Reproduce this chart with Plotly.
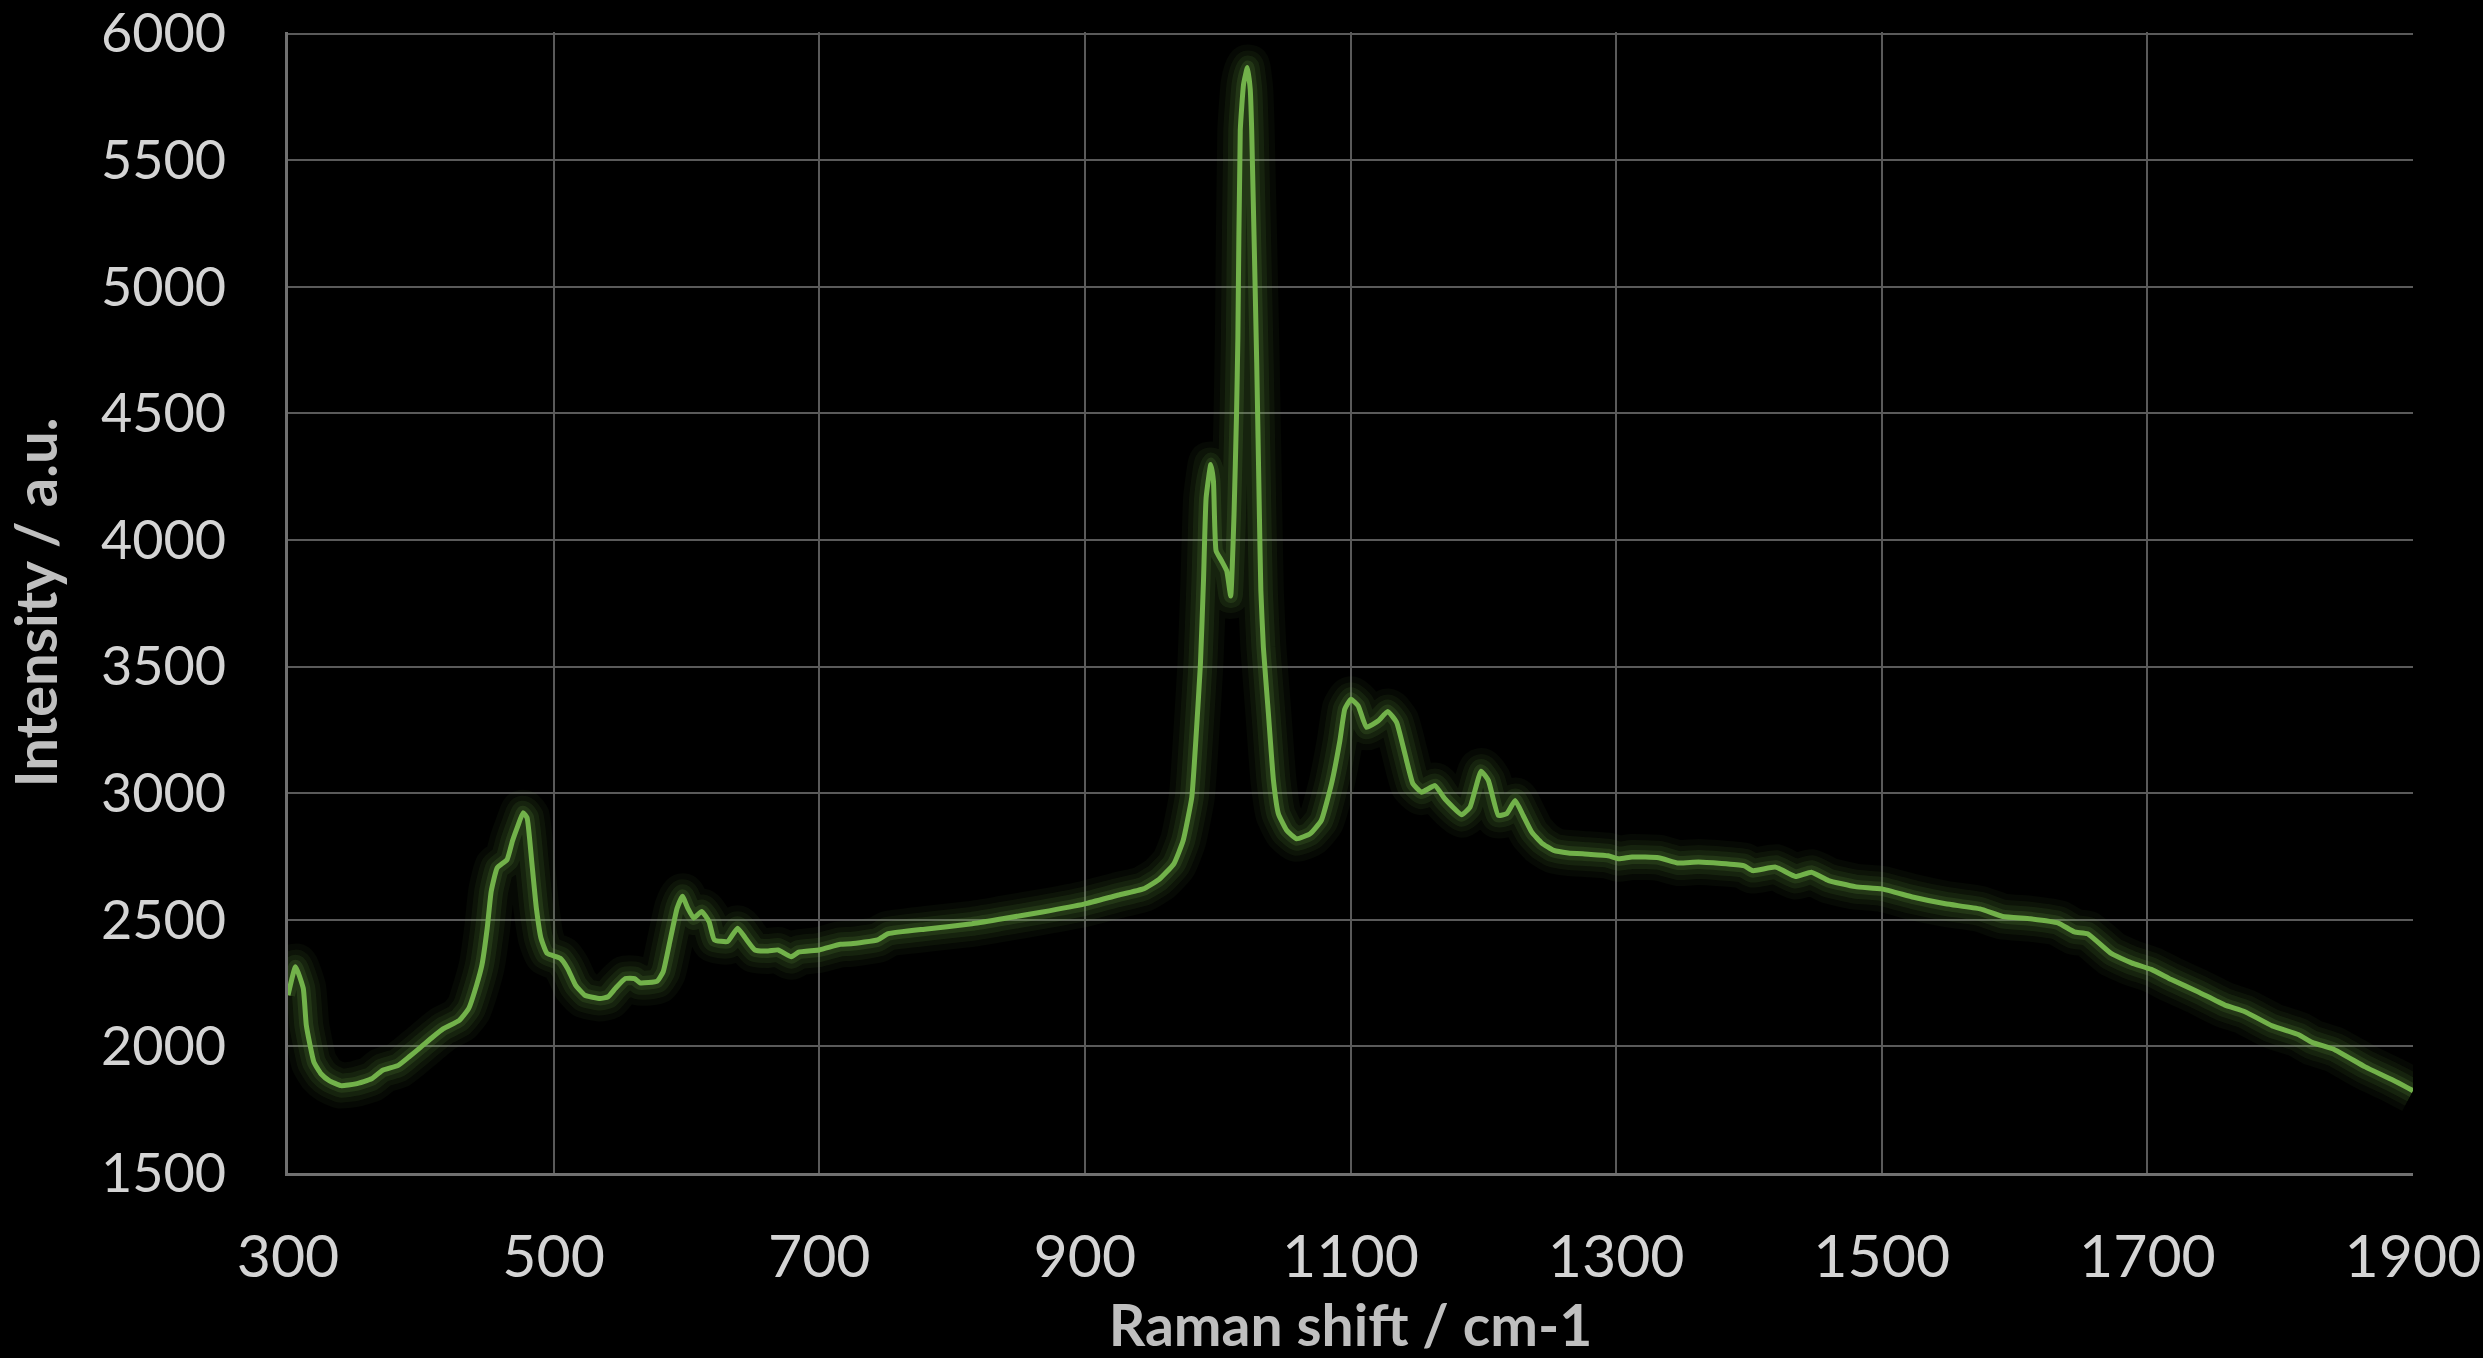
import plotly.graph_objects as go

# Raman spectrum, values
raman_shift = [
    300, 305.7, 311.5, 313.8, 319.5, 325, 331, 340, 351, 363, 371, 383, 391,
    400, 409, 417, 429, 436, 442, 446, 450, 453, 457.5, 465, 469, 473, 477,
    480, 483.5, 487, 490.5, 495, 505, 510.5, 516.5, 523.5, 535, 541, 546.5,
    554, 561, 565, 578, 582.5, 587, 593, 597, 601, 605.5, 611.5, 617, 621,
    631, 638.5, 644.5, 651.5, 661.5, 669, 679, 684.5, 700, 716, 724, 744,
    752, 781, 815, 838, 867, 900, 924, 944, 956, 967, 974, 980.5, 984, 987,
    989.3, 991.3, 994.8, 996.8, 998.8, 1003, 1006.8, 1009.8, 1012.3, 1014.2,
    1015.2, 1017, 1019.5, 1022.4, 1024.5, 1025.6, 1029.4, 1031.4, 1032.5,
    1034.4, 1038.2, 1042, 1045.7, 1052, 1059.5, 1069.6, 1078, 1085.7, 1092,
    1095.7, 1100.3, 1105.8, 1112, 1121, 1128, 1134.7, 1141, 1147, 1153.5,
    1163.6, 1171, 1183.7, 1190, 1198.3, 1203.8, 1211.3, 1217.6, 1224, 1230,
    1236.5, 1244, 1253, 1264, 1279, 1294, 1302, 1312, 1332, 1347, 1362,
    1396, 1403, 1420, 1435, 1447, 1460, 1480, 1500, 1524, 1548, 1574, 1591,
    1612, 1633, 1645, 1655, 1673, 1688, 1703, 1718, 1738, 1758, 1773.5,
    1794, 1814, 1824, 1841, 1864, 1884, 1900,
]

intensity = [
    2202, 2315, 2229, 2083, 1938, 1891, 1865, 1845, 1852, 1872, 1905, 1925,
    1958, 1997, 2037, 2070, 2103, 2149, 2242, 2321, 2467, 2612, 2705, 2738,
    2811, 2870, 2923, 2903, 2731, 2546, 2427, 2368, 2348, 2308, 2242, 2202,
    2189, 2196, 2229, 2268, 2268, 2251, 2258, 2295, 2401, 2546, 2593, 2546,
    2507, 2533, 2493, 2421, 2414, 2467, 2427, 2381, 2377, 2381, 2354, 2372,
    2381, 2403, 2405, 2421, 2445, 2464, 2484, 2504, 2530, 2563, 2596, 2622,
    2660, 2721, 2813, 2984, 3247, 3510, 3838, 4167, 4298, 4233, 3957, 3917,
    3878, 3779, 4100, 4500, 4800, 5618, 5800, 5866, 5780, 5618, 4697, 4100,
    3800, 3576, 3313, 3050, 2919, 2853, 2820, 2840, 2892, 3037, 3207, 3332,
    3371, 3345, 3260, 3286, 3323, 3280, 3155, 3037, 3004, 3030, 2978, 2915,
    2945, 3087, 3050, 2912, 2919, 2971, 2912, 2846, 2803, 2774, 2764, 2759,
    2753, 2741, 2748, 2745, 2724, 2728, 2714, 2694, 2708, 2671, 2688, 2655,
    2631, 2622, 2589, 2563, 2543, 2513, 2504, 2487, 2452, 2445, 2366, 2330,
    2304, 2264, 2216, 2164, 2137, 2081, 2046, 2016, 1987, 1919, 1869, 1825,
]

x_ticks = [300, 500, 700, 900, 1100, 1300, 1500, 1700, 1900]
y_ticks = [1500, 2000, 2500, 3000, 3500, 4000, 4500, 5000, 5500, 6000]

LINE_GREEN = "#72B24A"
GRID_GREY = "#5a5a5a"
TEXT_GREY = "#d4d4d4"
TITLE_GREY = "#bfbfbf"

fig = go.Figure()

# soft glow under the spectrum: a few wide, faint copies of the line
for width, alpha in [(46, 0.05), (34, 0.07), (24, 0.10), (14, 0.15)]:
    fig.add_trace(go.Scatter(
        x=raman_shift,
        y=intensity,
        mode="lines",
        line=dict(color=f"rgba(112,173,71,{alpha})", width=width,
                  shape="spline", smoothing=0.4),
        hoverinfo="skip",
        showlegend=False,
    ))

fig.add_trace(go.Scatter(
    x=raman_shift,
    y=intensity,
    mode="lines",
    line=dict(color=LINE_GREEN, width=5, shape="spline", smoothing=0.4),
    name="Spectrum",
    showlegend=False,
))

fig.update_layout(
    width=2483,
    height=1358,
    paper_bgcolor="black",
    plot_bgcolor="black",
    margin=dict(l=288, r=70, t=32, b=185),
    font=dict(family="Lato, 'Open Sans', sans-serif", color=TEXT_GREY),
    xaxis=dict(
        range=[300, 1900],
        tickvals=x_ticks,
        ticktext=[str(v) for v in x_ticks],
        tickfont=dict(size=59, color=TEXT_GREY),
        ticklabelstandoff=30,
        ticklabeloverflow="allow",
        automargin=False,
        showgrid=True,
        gridcolor=GRID_GREY,
        gridwidth=2,
        showline=True,
        linecolor="#707070",
        linewidth=3,
        zeroline=False,
        ticks="",
        title=dict(
            text="<b>Raman shift / cm-1</b>",
            font=dict(size=57, color=TITLE_GREY),
            standoff=20,
        ),
    ),
    yaxis=dict(
        range=[1500, 6006],
        tickvals=y_ticks,
        ticktext=[str(v) for v in y_ticks],
        tickfont=dict(size=54, color=TEXT_GREY),
        ticklabelstandoff=48,
        ticklabeloverflow="allow",
        automargin=False,
        showgrid=True,
        gridcolor=GRID_GREY,
        gridwidth=2,
        showline=True,
        linecolor="#707070",
        linewidth=3,
        zeroline=False,
        ticks="",
        title=dict(
            text="<b>Intensity / a.u.</b>",
            font=dict(size=58, color=TITLE_GREY),
            standoff=34,
        ),
    ),
)

fig.write_html(
    "out.html",
    config={"displayModeBar": False},
    post_script="document.body.style.margin='0';",
)
